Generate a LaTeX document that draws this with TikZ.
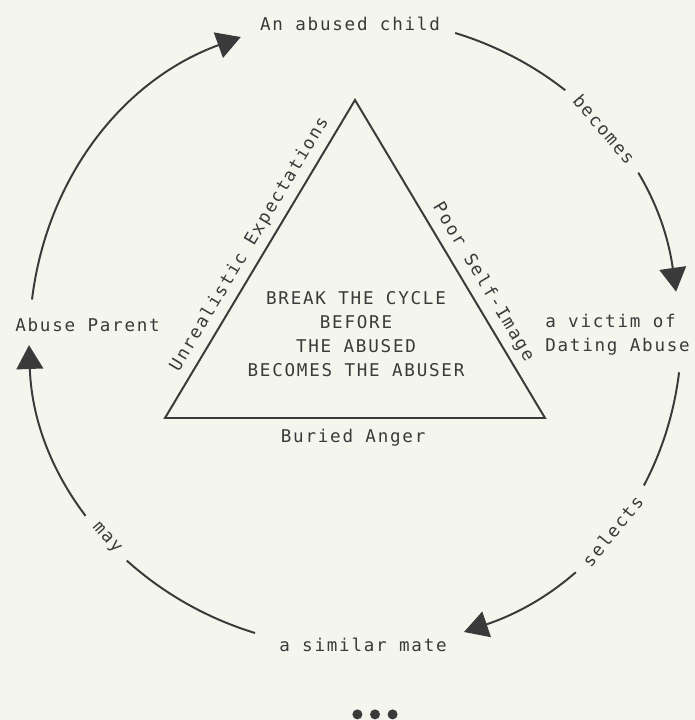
\documentclass[tikz,border=0pt]{standalone}
\usepackage{fontspec}
\newfontfamily\typefont[LetterSpace=10]{DejaVu Sans Mono}
\usetikzlibrary{arrows.meta}
\definecolor{paper}{RGB}{244,246,238}
\definecolor{ink}{RGB}{58,58,58}

\begin{document}
\begin{tikzpicture}[font={\typefont\fontsize{12.5pt}{17pt}\selectfont},
    lbl/.style ={inner sep=0pt, text=ink},
    side/.style={lbl, sloped, anchor=south, inner ysep=5.5pt},
    gap/.style ={lbl, sloped, fill=paper, inner xsep=9pt, inner ysep=1pt},
    tri/.style ={draw=ink, line width=1.4pt},
    cyc/.style ={draw=ink, line width=1.4pt, looseness=0.95, -{Triangle[length=17pt,width=19pt]}},
  ]
  \fill[paper] (0,0) rectangle (17.375,18);
  \useasboundingbox (0,0) rectangle (17.375,18);

  % the four stages round the cycle
  \node[lbl] (child) at (8.75,17.4) {An abused child};
  \node[lbl, anchor=west] (parent) at (0.375,9.875) {Abuse Parent};
  \node[lbl, anchor=west, align=left] (victim) at (13.625,9.6375) {a victim of\\Dating Abuse};
  \node[lbl] (mate) at (9.075,1.875) {a similar mate};

  % triangle in the middle
  \coordinate (apex) at (8.875,15.5);
  \coordinate (bl) at (4.125,7.55);
  \coordinate (br) at (13.625,7.55);
  \draw[tri] (bl) -- (apex) -- (br) -- cycle;
  \node[lbl, align=center] (motto) at (8.9,9.65) {BREAK THE CYCLE\\BEFORE\\THE ABUSED\\BECOMES THE ABUSER};
  \path (bl) -- node[side, pos=0.52] (expect) {Unrealistic Expectations} (apex);
  \path (apex) -- node[side, pos=0.6] (selfimg) {Poor Self-Image} (br);
  \path (bl) -- node[lbl, pos=0.495, anchor=north, inner ysep=7.6pt] (anger) {Buried Anger} (br);

  % arcs of the cycle
  \draw[cyc] ([xshift=0.425cm,yshift=0.46cm]parent.north west) to[out=83,in=-160]
    ([xshift=-0.475cm,yshift=-0.325cm]child.west);
  \draw[cyc] ([xshift=0.375cm,yshift=-0.225cm]child.east) to[out=-17,in=98]
    node[gap, pos=0.5] (becomes) {becomes} ([xshift=-0.35cm,yshift=0.55cm]victim.north east);
  \draw[cyc] ([xshift=-0.275cm,yshift=-0.425cm]victim.south east) to[out=-97,in=18.7]
    node[gap, pos=0.49] (selects) {selects} ([xshift=0.425cm,yshift=0.325cm]mate.east);
  \draw[cyc] ([xshift=-0.6cm,yshift=0.3cm]mate.west) to[out=163,in=-88]
    node[gap, pos=0.455] (may) {may} ([xshift=0.35cm,yshift=-0.325cm]parent.south west);

  \foreach \i in {-1,0,1}{ \fill[ink] ({9.375+\i*0.44},0.14) circle (0.125); }
\end{tikzpicture}
\end{document}
